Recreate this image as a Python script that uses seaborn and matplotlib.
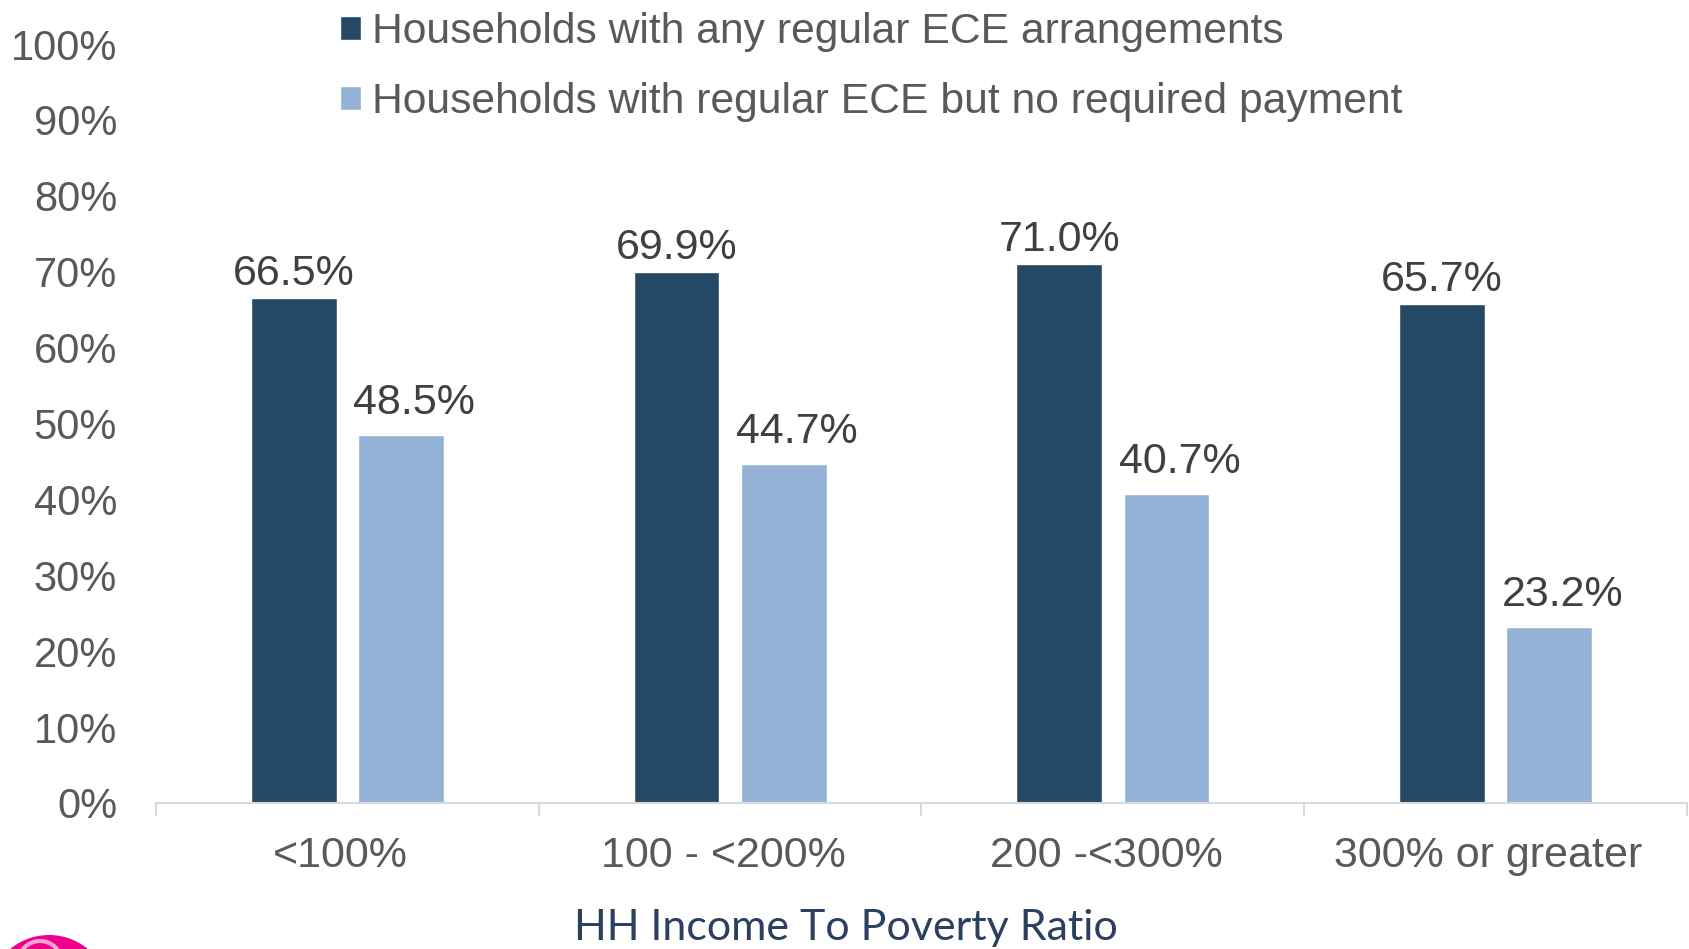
import numpy as np
import pandas as pd
import matplotlib
matplotlib.use("Agg")
import matplotlib.pyplot as plt
import seaborn as sns
from matplotlib.patches import Circle
from matplotlib.ticker import FixedLocator, FuncFormatter
from matplotlib.transforms import ScaledTranslation

# ---- data ----
categories = ["<100%", "100 - <200%", "200 -<300%", "300% or greater"]
series = ["Households with any regular ECE arrangements",
          "Households with regular ECE but no required payment"]
any_ece = [66.5, 69.9, 71.0, 65.7]
no_payment = [48.5, 44.7, 40.7, 23.2]

df = pd.DataFrame({
    "income": categories * 2,
    "group": [series[0]] * 4 + [series[1]] * 4,
    "pct": any_ece + no_payment,
})

sns.set_style("white")
plt.rcParams["font.family"] = ["Liberation Sans", "DejaVu Sans"]

fig = plt.figure(figsize=(16.9, 9.49), dpi=100)
ax = fig.add_axes([156 / 1690, 1 - 803 / 949, (1687 - 156) / 1690, (803 - 44) / 949])

sns.barplot(data=df, x="income", y="pct", hue="group", order=categories,
            hue_order=series, palette=["#264A65", "#95B3D7"],
            width=0.56, gap=0.2, saturation=1, ax=ax)

# value labels (the light series sits a bit higher and to the right)
for i, cont in enumerate(ax.containers):
    texts = ax.bar_label(cont, fmt="%.1f%%", padding=3, fontsize=31, color="#404040")
    if i == 1:
        for t in texts:
            t.xyann = (9.5, 8.8)

ax.set_xlim(-0.5, 3.5)
ax.set_ylim(0, 100)
ax.set_yticks(np.arange(0, 101, 10))
ax.yaxis.set_major_formatter(FuncFormatter(lambda v, p: f"{v:.0f}%"))
ax.tick_params(axis="y", length=0, pad=28, labelsize=30, labelcolor="#595959")
ax.tick_params(axis="x", which="major", length=0, pad=24, labelsize=31, labelcolor="#595959")
ax.xaxis.set_minor_locator(FixedLocator([-0.5, 0.5, 1.5, 2.5, 3.5]))
ax.tick_params(axis="x", which="minor", bottom=True, length=9.5, width=1.5, color="#D9D9D9")
ax.set_xlabel("")
ax.set_ylabel("")
shift = ScaledTranslation(-7 / 100, 0, fig.dpi_scale_trans)
for lab in ax.get_xticklabels():
    lab.set_transform(lab.get_transform() + shift)

for s in ["top", "right", "left"]:
    ax.spines[s].set_visible(False)
ax.spines["bottom"].set_color("#D9D9D9")
ax.spines["bottom"].set_linewidth(1.5)

handles, labels = ax.get_legend_handles_labels()
ax.legend(handles, labels, loc="upper left", bbox_to_anchor=(340 / 1690, 1 - 12 / 949),
          bbox_transform=fig.transFigure, frameon=False, fontsize=30.7,
          handlelength=0.5, handleheight=0.5, handletextpad=0.26,
          labelspacing=0.7, borderpad=0, borderaxespad=0, labelcolor="#595959")

fig.text(846 / 1690, 1 - 940 / 949, "HH Income To Poverty Ratio", ha="center",
         va="baseline", fontsize=31, color="#2B3F5E", family=["Lato", "DejaVu Sans"])

# pink logo peeking in at the bottom-left corner
fig.add_artist(Circle((49, -47), 61, transform=None, facecolor="#EC008C", edgecolor="none"))
fig.add_artist(Circle((40, -14), 22, transform=None, facecolor="none",
                      edgecolor="#F5A3D0", linewidth=3))

fig.savefig("out.png", dpi=100)
